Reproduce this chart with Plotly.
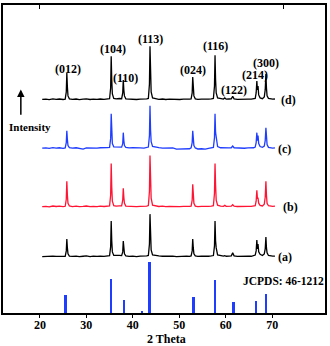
import plotly.graph_objects as go

# 2-theta grid shared by the four patterns
two_theta = [
    20.5, 21.3, 22.0, 22.8, 23.5, 24.2, 25.0,
    25.45, 25.68, 25.8, 25.92, 26.05, 26.35,                     # (012)
    27.0, 27.8, 28.5, 29.3, 30.0, 30.8, 31.5, 32.3, 33.0, 33.8, 34.5,
    35.0, 35.23, 35.35, 35.47, 35.6, 35.9,                       # (104)
    36.4, 37.1,
    37.6, 37.83, 37.95, 38.07, 38.2, 38.5,                       # (110)
    39.2, 40.0, 40.8, 41.6, 42.4, 43.0,
    43.35, 43.58, 43.7, 43.82, 43.95, 44.25,                     # (113)
    44.9, 45.6, 46.4, 47.1, 47.9, 48.6, 49.4, 50.1, 50.9, 51.6, 52.2,
    52.55, 52.78, 52.9, 53.02, 53.15, 53.45,                     # (024)
    54.0, 54.8, 55.6, 56.3, 56.9,
    57.35, 57.58, 57.7, 57.82, 57.95, 58.25,                     # (116)
    58.9, 59.5, 59.8, 60.1, 60.7,
    61.2, 61.5, 61.8,                                            # (122)
    62.5, 63.3, 64.0, 64.8, 65.5, 66.0,
    66.35, 66.55, 66.7, 66.82, 66.95, 67.1, 67.4, 67.9,          # (214)
    68.3, 68.5, 68.65, 68.77, 68.9, 69.2, 69.6, 70.1, 70.6,      # (300)
]

int_a = [
    0.3, 0.6, 0.2, 0.8, 0.4, 0.7, 0.3,
    0.6, 6, 18, 9, 3, 0.8,
    0.4, 0.7, 0.2, 0.6, 0.9, 0.3, 0.7, 0.4, 0.8, 0.5, 0.9,
    1.1, 10, 36, 16, 5, 1.5,
    1.2, 1.5,
    1.3, 5, 16, 8, 3, 1.0,
    0.5, 0.8, 0.3, 0.7, 0.5, 0.9,
    1.4, 13, 43, 19, 7, 2.0,
    1.3, 1.0, 0.6, 0.8, 0.4, 0.7, 0.3, 0.6, 0.4, 0.7, 0.5,
    0.9, 6, 18, 9, 3, 0.9,
    0.5, 0.7, 0.4, 0.6, 0.9,
    1.3, 11, 36, 16, 9, 2.0,
    1.0, 0.7, 1.2, 0.6, 0.8,
    1.0, 4, 1.0,
    0.5, 0.8, 0.4, 0.7, 0.6, 0.9,
    1.8, 6, 17, 8, 13, 5, 2.5, 1.3,
    3, 8, 20, 9, 4, 1.4, 1.0, 0.7, 0.8,
]

int_b = [
    0.6, 0.9, 0.4, 1.2, 0.7, 1.0, 0.5,
    0.9, 8, 26, 12, 4, 1.2,
    0.6, 1.0, 0.5, 0.8, 1.2, 0.5, 0.9, 0.6, 1.0, 0.7, 1.1,
    1.3, 12, 44, 20, 6, 1.6,
    1.1, 1.4,
    1.3, 7, 19, 10, 4, 1.1,
    0.7, 1.0, 0.5, 0.9, 0.7, 1.1,
    1.6, 16, 52, 30, 9, 2.0,
    1.1, 0.7, 1.0, 0.5, 0.9, 0.6, 1.0, 0.5, 0.8, 0.6, 0.9,
    1.1, 7, 23, 11, 4, 1.1,
    0.6, 0.9, 0.5, 0.8, 1.1,
    1.6, 14, 44, 22, 7, 2.0,
    1.0, 0.9, 1.8, 0.8, 1.0,
    1.0, 2.5, 1.0,
    0.7, 1.0, 0.6, 0.9, 0.8, 1.1,
    1.5, 6, 17, 9, 9, 4, 1.8, 1.2,
    3, 10, 26, 12, 4, 1.5, 1.0, 0.8, 1.0,
]

int_c = [
    0.4, 0.7, 0.2, 0.9, 0.5, 0.8, 0.3,
    0.7, 6, 18, 9, 3, 0.9,
    0.4, 0.8, 0.2, -0.6, 0.6, 0.3, 0.7, 0.4, 0.8, 0.5, 0.9,
    1.2, 10, 35, 16, 5, 1.8,
    1.6, 1.8,
    1.5, 5, 16, 8, 3, 1.2,
    0.6, 0.8, 0.4, 0.7, 0.5, 0.9,
    1.5, 13, 43, 19, 7, 2.2,
    1.4, 0.9, 0.5, 0.7, 0.3, 0.6, -0.5, -0.3, -0.6, -0.4, -0.2,
    0.8, 6, 18, 9, 3, 0.6,
    -0.4, -0.2, -0.5, 0.3, 0.5,
    1.2, 11, 35, 16, 10, 2.0,
    0.8, 0.6, 1.0, 0.5, 0.7,
    0.8, 2.5, 0.8,
    0.5, 0.7, 0.3, 0.6, 0.5, 0.8,
    1.5, 6, 16, 8, 13, 5, 2.0, 1.3,
    2.5, 8, 21, 10, 4, 1.2, 0.8, 0.5, 0.7,
]

int_d = [
    0.5, 0.8, 0.3, 1.0, 0.6, 0.9, 0.4,
    0.8, 8, 27, 13, 4, 1.0,
    0.5, 0.9, 0.3, 0.7, 1.1, 0.4, 0.8, 0.5, 0.9, 0.6, 1.0,
    1.2, 12, 44, 20, 6, 1.5,
    1.0, 1.4,
    1.2, 7, 20, 10, 4, 1.0,
    0.6, 0.9, 0.4, 0.8, 0.6, 1.0,
    1.5, 16, 54, 24, 8, 2.0,
    1.0, 0.6, 0.9, 0.4, 0.8, 0.5, 0.9, 0.4, 0.7, 0.5, 0.8,
    1.0, 7, 23, 11, 4, 1.0,
    0.5, 0.8, 0.4, 0.7, 1.0,
    1.5, 14, 45, 20, 7, 2.0,
    1.0, 0.8, 2.0, 0.7, 0.9,
    1.0, 3.5, 1.0,
    0.6, 0.9, 0.5, 0.8, 0.7, 1.0,
    1.5, 7, 19, 10, 14, 5, 2.0, 1.2,
    3, 10, 26, 12, 4, 1.5, 1.0, 0.7, 0.9,
]

sample_names = ["(a)", "(b)", "(c)", "(d)"]
offsets = [56.5, 106.5, 165.5, 214.5]  # vertical stacking of the patterns
colors = ["black", "#ff1434", "#1f3dff", "black"]

# JCPDS 46-1212 reference lines
ref_pos = [25.6, 35.4, 38.1, 42.0, 43.6, 53.0, 57.7, 61.7, 66.6, 68.65]
ref_int = [18, 34, 13, 2.5, 51, 16, 33, 11, 12, 19]
ref_width = [0.4, 0.4, 0.4, 0.4, 0.75, 0.65, 0.4, 0.4, 0.35, 0.5]

# Miller indices labels
hkl = ["(012)", "(104)", "(110)", "(113)", "(024)", "(116)", "(122)", "(214)", "(300)"]
hkl_x = [26.0, 35.7, 38.45, 43.8, 53.05, 57.8, 61.85, 66.35, 68.7]
hkl_y = [246, 266, 237, 276, 245, 269, 224, 240, 252]

serif = "Liberation Serif"
font_b = dict(family=serif, size=12, color="black", weight="bold")

fig = go.Figure()

for name, ints, off, col in zip(sample_names, [int_a, int_b, int_c, int_d], offsets, colors):
    assert len(ints) == len(two_theta)
    fig.add_trace(go.Scatter(
        x=two_theta,
        y=[v + off for v in ints],
        mode="lines",
        line=dict(color=col, width=1.3),
        name=name,
        showlegend=False
    ))

fig.add_trace(go.Bar(
    x=ref_pos,
    y=ref_int,
    width=ref_width,
    marker=dict(color="#1f3dff", line=dict(width=0)),
    showlegend=False
))

# dummy trace so the top axis with its two ticks gets drawn
fig.add_trace(go.Scatter(x=[20], y=[0], xaxis="x2", mode="markers",
                         marker=dict(opacity=0), showlegend=False, hoverinfo="skip"))

annotations = []
for t, x, y in zip(hkl, hkl_x, hkl_y):
    annotations.append(dict(x=x, y=y, text=t, showarrow=False, font=font_b))

label_x = [70.9, 72.0, 70.9, 71.5]
for name, off, lx in zip(sample_names, offsets, label_x):
    annotations.append(dict(x=lx, y=off, text=name, showarrow=False,
                            xanchor="left", font=font_b))

annotations += [
    dict(x=72.47, y=32.3, text="JCPDS: 46-1212", showarrow=False,
         font=dict(family=serif, size=11.5, color="black", weight="bold")),
    dict(x=17.85, y=187.5, text="Intensity", showarrow=False,
         font=dict(family=serif, size=11, color="black", weight="bold")),
    dict(x=15.9, y=225, ax=15.9, ay=198, axref="x", ayref="y", text="",
         showarrow=True, arrowhead=2, arrowsize=1, arrowwidth=1.5, arrowcolor="black"),
    dict(x=0.508, y=-0.084, xref="paper", yref="paper", text="2 Theta",
         showarrow=False, yanchor="middle", font=font_b),
]

fig.update_layout(
    width=330,
    height=346,
    margin=dict(l=3, r=4, t=3, b=33),
    paper_bgcolor="white",
    plot_bgcolor="white",
    bargap=0,
    annotations=annotations,
    xaxis=dict(
        range=[12.06, 81.37],
        tickvals=[20, 30, 40, 50, 60, 70],
        ticks="outside",
        ticklen=3,
        tickcolor="black",
        tickfont=font_b,
        ticklabelstandoff=-3,
        showline=True,
        mirror=True,
        linecolor="black",
        linewidth=1.5,
        showgrid=False,
        zeroline=False
    ),
    xaxis2=dict(
        overlaying="x",
        side="top",
        range=[12.06, 81.37],
        tickvals=[20, 72.5],
        ticks="inside",
        ticklen=4,
        tickcolor="black",
        showticklabels=False,
        showline=False,
        showgrid=False,
        zeroline=False
    ),
    yaxis=dict(
        range=[0, 310],
        showticklabels=False,
        ticks="",
        showline=True,
        mirror=True,
        linecolor="black",
        linewidth=1.5,
        showgrid=False,
        zeroline=False
    )
)

# drop the browser's default body margin so the figure sits at the window corner
fig.write_html("out.html", config={"displayModeBar": False},
               post_script="document.body.style.margin = '0';")
